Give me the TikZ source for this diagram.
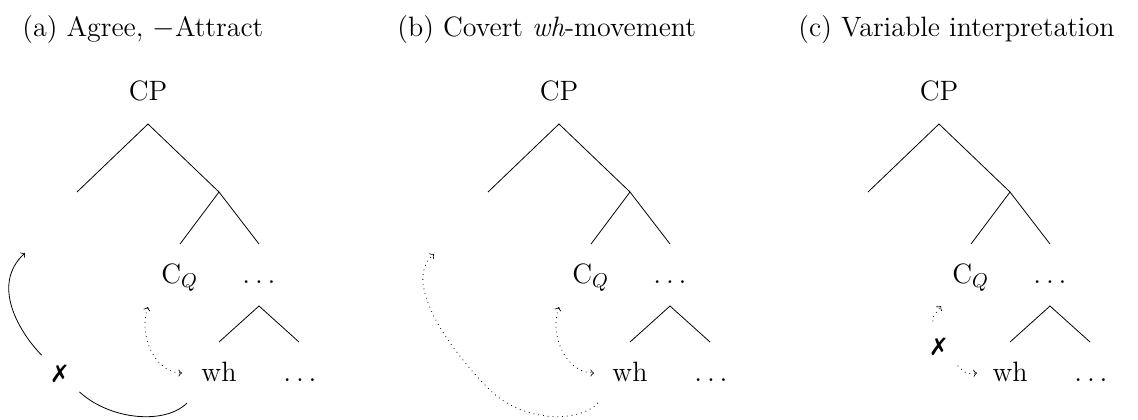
\documentclass[tikz,border=0pt]{standalone}
\usepackage{fontspec}
\newfontfamily\symfont{DejaVu Sans}
\begin{document}
\begin{tikzpicture}[x=0.5pt, y=-0.5pt, >=to,
    every node/.style={font=\fontsize{14}{16}\selectfont, inner sep=0pt},
    titulo/.style={anchor=base west},
    hoja/.style={anchor=base},
    cruz/.style={circle, minimum size=26pt, font=\symfont\fontsize{12}{14}\selectfont}]
    \useasboundingbox (0,0) rectangle (1138,419);

    % Títulos de los tres paneles
    \node[titulo] (ta) at (22,36)  {(a) Agree, $-$Attract};
    \node[titulo] (tb) at (397,36) {(b) Covert \emph{wh}-movement};
    \node[titulo] (tc) at (798,36) {(c) Variable interpretation};

    % Árboles (el mismo árbol desplazado en x)
    \foreach \t/\dx in {a/0, b/411, c/791} {
        \node[hoja] (\t-cp) at (148+\dx,100) {CP};
        \coordinate (\t-top) at (148+\dx,124);   % nodo CP
        \coordinate (\t-spec) at (77+\dx,192);   % especificador vacío
        \coordinate (\t-cbar) at (219+\dx,192);  % C'
        \coordinate (\t-cl) at (180+\dx,244);
        \coordinate (\t-cr) at (259+\dx,244);
        \node[hoja, anchor=base west] (\t-c) at (161+\dx,283) {C$_Q$};
        \node[hoja] (\t-dots) at (259+\dx,283) {$\ldots$};
        \coordinate (\t-tp) at (259+\dx,306);    % subárbol inferior
        \coordinate (\t-tl) at (219+\dx,342);
        \coordinate (\t-tr) at (299+\dx,342);
        \node[hoja] (\t-wh) at (219+\dx,381) {wh};
        \node[hoja] (\t-rest) at (300+\dx,381) {$\ldots$};

        \draw (\t-spec) -- (\t-top) -- (\t-cbar) -- (\t-cl);
        \draw (\t-cbar) -- (\t-cr);
        \draw (\t-tl) -- (\t-tp) -- (\t-tr);
    }

    % (a) Agree sin Attract: movimiento bloqueado
    \coordinate (a-from) at (187,403);
    \coordinate (a-to) at (25,253);
    \node[cruz] (a-x) at (60,374) {✗};
    \draw (a-from) .. controls (165,425) and (110,420) .. (a-x);
    \draw[->] (a-x) .. controls (20,333) and (-10,285) .. (a-to);
    \coordinate (a-up) at (148,307);
    \coordinate (a-down) at (182,373);
    \draw[dotted, <->] (a-up) .. controls (138,335) and (155,373) .. (a-down);

    % (b) movimiento encubierto
    \coordinate (b-from) at (598,403);
    \coordinate (b-to) at (434,254);
    \draw[dotted, ->] (b-from) .. controls (576,425) and (521,420) .. (491,391)
        .. controls (461,362) and (398,285) .. (b-to);
    \coordinate (b-up) at (559,307);
    \coordinate (b-down) at (594,373);
    \draw[dotted, <->] (b-up) .. controls (549,335) and (566,373) .. (b-down);

    % (c) interpretación como variable
    \node[cruz] (c-x) at (939,347) {✗};
    \coordinate (c-up) at (941,306);
    \coordinate (c-down) at (977,373);
    \draw[dotted, ->] (c-x) .. controls (932,318) .. (c-up);
    \draw[dotted, ->] (c-x) .. controls (966,374) .. (c-down);

\end{tikzpicture}
\end{document}
